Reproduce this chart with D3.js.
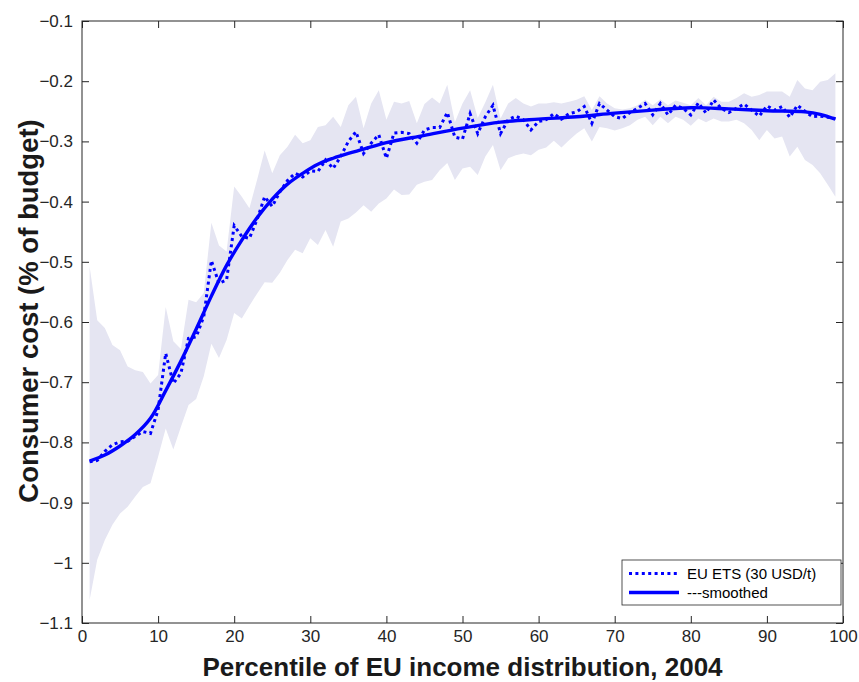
<!DOCTYPE html>
<html>
<head>
<meta charset="utf-8">
<script src="https://cdn.jsdelivr.net/npm/d3@7"></script>
<style>
  html, body { margin: 0; padding: 0; background: #fff; }
  svg { display: block; font-family: "Liberation Sans", Arial, Helvetica, sans-serif; }
</style>
</head>
<body>
<svg id="chart" width="859" height="682"></svg>
<script>
// Percentiles 1..99 of the EU income distribution
const percentiles = d3.range(1, 100);

// Consumer cost of EU ETS at 30 USD/t, % of household budget, per percentile
const etsCost = [
  -0.832, -0.830, -0.815, -0.804, -0.799, -0.798, -0.790, -0.782, -0.785, -0.746,
  -0.652, -0.702, -0.685, -0.627, -0.625, -0.591, -0.498, -0.536, -0.530, -0.440,
  -0.458, -0.461, -0.430, -0.392, -0.408, -0.384, -0.365, -0.353, -0.359, -0.349,
  -0.350, -0.331, -0.345, -0.325, -0.300, -0.284, -0.320, -0.303, -0.289, -0.328,
  -0.286, -0.285, -0.287, -0.303, -0.281, -0.277, -0.277, -0.252, -0.293, -0.296,
  -0.254, -0.287, -0.259, -0.240, -0.287, -0.264, -0.258, -0.264, -0.281, -0.267,
  -0.264, -0.254, -0.263, -0.254, -0.251, -0.242, -0.270, -0.237, -0.248, -0.259,
  -0.262, -0.252, -0.245, -0.237, -0.256, -0.237, -0.256, -0.240, -0.245, -0.256,
  -0.236, -0.253, -0.231, -0.245, -0.252, -0.245, -0.238, -0.248, -0.258, -0.241,
  -0.248, -0.242, -0.260, -0.240, -0.250, -0.259, -0.258, -0.260, -0.262
];

// Upper and lower edges of the confidence band, per percentile
const bandUpper = [
  -0.508, -0.597, -0.610, -0.638, -0.647, -0.674, -0.680, -0.683, -0.702, -0.688,
  -0.575, -0.632, -0.645, -0.563, -0.567, -0.552, -0.435, -0.473, -0.483, -0.375,
  -0.392, -0.411, -0.364, -0.315, -0.353, -0.323, -0.309, -0.289, -0.303, -0.298,
  -0.276, -0.273, -0.259, -0.276, -0.240, -0.226, -0.278, -0.237, -0.215, -0.264,
  -0.234, -0.237, -0.233, -0.270, -0.238, -0.227, -0.237, -0.206, -0.268, -0.237,
  -0.215, -0.261, -0.235, -0.206, -0.262, -0.237, -0.228, -0.237, -0.242, -0.237,
  -0.237, -0.235, -0.237, -0.234, -0.231, -0.225, -0.248, -0.225, -0.237, -0.245,
  -0.247, -0.245, -0.240, -0.231, -0.240, -0.230, -0.240, -0.232, -0.236, -0.240,
  -0.228, -0.240, -0.226, -0.234, -0.234, -0.228, -0.220, -0.226, -0.223, -0.217,
  -0.217, -0.217, -0.226, -0.198, -0.212, -0.215, -0.201, -0.198, -0.187
];
const bandLower = [
  -1.062, -0.995, -0.962, -0.937, -0.918, -0.907, -0.890, -0.874, -0.868, -0.824,
  -0.777, -0.812, -0.774, -0.738, -0.728, -0.690, -0.636, -0.660, -0.630, -0.585,
  -0.594, -0.573, -0.553, -0.534, -0.535, -0.518, -0.497, -0.480, -0.486, -0.461,
  -0.472, -0.447, -0.475, -0.433, -0.428, -0.418, -0.406, -0.417, -0.403, -0.395,
  -0.380, -0.389, -0.388, -0.372, -0.367, -0.364, -0.348, -0.336, -0.364, -0.345,
  -0.342, -0.356, -0.325, -0.306, -0.348, -0.328, -0.323, -0.320, -0.323, -0.314,
  -0.310, -0.299, -0.310, -0.298, -0.287, -0.278, -0.300, -0.276, -0.278, -0.282,
  -0.278, -0.273, -0.264, -0.259, -0.273, -0.259, -0.270, -0.259, -0.264, -0.274,
  -0.262, -0.268, -0.262, -0.267, -0.267, -0.264, -0.270, -0.281, -0.298, -0.281,
  -0.295, -0.292, -0.325, -0.309, -0.331, -0.339, -0.353, -0.372, -0.392
];

// Smoothed profile
const smoothPct = [1, 3, 5, 7, 9, 11, 13, 15, 17, 19, 21, 23, 25, 27, 29, 31, 33, 35, 37, 40,
                   45, 50, 55, 60, 65, 70, 75, 80, 85, 90, 95, 97, 99];
const smoothCost = [-0.831, -0.821, -0.806, -0.787, -0.760, -0.714, -0.665, -0.612, -0.557, -0.506,
                    -0.464, -0.427, -0.396, -0.371, -0.353, -0.338, -0.328, -0.320, -0.313, -0.302,
                    -0.290, -0.278, -0.268, -0.263, -0.259, -0.253, -0.248, -0.244, -0.246, -0.249,
                    -0.251, -0.255, -0.263];

// Axis ticks
const xTicks = [0, 10, 20, 30, 40, 50, 60, 70, 80, 90, 100];
const xTickLabels = ["0", "10", "20", "30", "40", "50", "60", "70", "80", "90", "100"];
const yTicks = [-1.1, -1, -0.9, -0.8, -0.7, -0.6, -0.5, -0.4, -0.3, -0.2, -0.1];
const yTickLabels = ["\u22121.1", "\u22121", "\u22120.9", "\u22120.8", "\u22120.7", "\u22120.6",
                     "\u22120.5", "\u22120.4", "\u22120.3", "\u22120.2", "\u22120.1"];

const xLabel = "Percentile of EU income distribution, 2004";
const yLabel = "Consumer cost (% of budget)";
const legendLabels = ["EU ETS (30 USD/t)", "---smoothed"];

const svg = d3.select("#chart");
const plot = { left: 82, right: 843, top: 21, bottom: 623 };
const axisColor = "#262626";
const lineBlue = "#0000ff";

const x = d3.scaleLinear().domain([0, 100]).range([plot.left, plot.right]);
const y = d3.scaleLinear().domain([-1.1, -0.1]).range([plot.bottom, plot.top]);

const rows = percentiles.map((p, i) => ({ p, v: etsCost[i], lo: bandLower[i], hi: bandUpper[i] }));
const smooth = smoothPct.map((p, i) => ({ p, v: smoothCost[i] }));

// Confidence band
svg.append("path")
  .datum(rows)
  .attr("fill", "#e5e5f2")
  .attr("stroke", "none")
  .attr("d", d3.area().x(d => x(d.p)).y0(d => y(d.lo)).y1(d => y(d.hi)));

// Raw series (dotted)
svg.append("path")
  .datum(rows)
  .attr("fill", "none")
  .attr("stroke", lineBlue)
  .attr("stroke-width", 3)
  .attr("stroke-dasharray", "3 3.4")
  .attr("d", d3.line().x(d => x(d.p)).y(d => y(d.v)));

// Smoothed series
svg.append("path")
  .datum(smooth)
  .attr("fill", "none")
  .attr("stroke", lineBlue)
  .attr("stroke-width", 3.4)
  .attr("stroke-linejoin", "round")
  .attr("d", d3.line().curve(d3.curveCatmullRom.alpha(0.5)).x(d => x(d.p)).y(d => y(d.v)));

// Axes with inward ticks on all four sides
const tickLen = 7;
const styleAxis = g => {
  g.select(".domain").remove();
  g.selectAll(".tick line").attr("stroke", axisColor).attr("stroke-width", 1);
  g.selectAll(".tick text").attr("fill", axisColor).attr("font-size", 17)
    .attr("font-family", "'Liberation Sans', Arial, Helvetica, sans-serif");
};

svg.append("g")
  .attr("transform", `translate(0,${plot.bottom})`)
  .call(d3.axisBottom(x).tickValues(xTicks).tickFormat((d, i) => xTickLabels[i])
    .tickSizeInner(-tickLen).tickSizeOuter(0).tickPadding(7))
  .call(styleAxis);

svg.append("g")
  .attr("transform", `translate(0,${plot.top})`)
  .call(d3.axisTop(x).tickValues(xTicks).tickFormat("")
    .tickSizeInner(-tickLen).tickSizeOuter(0))
  .call(styleAxis);

svg.append("g")
  .attr("transform", `translate(${plot.left},0)`)
  .call(d3.axisLeft(y).tickValues(yTicks).tickFormat((d, i) => yTickLabels[i])
    .tickSizeInner(-tickLen).tickSizeOuter(0).tickPadding(9))
  .call(styleAxis);

svg.append("g")
  .attr("transform", `translate(${plot.right},0)`)
  .call(d3.axisRight(y).tickValues(yTicks).tickFormat("")
    .tickSizeInner(-tickLen).tickSizeOuter(0))
  .call(styleAxis);

// Axes box
svg.append("rect")
  .attr("x", plot.left).attr("y", plot.top)
  .attr("width", plot.right - plot.left).attr("height", plot.bottom - plot.top)
  .attr("fill", "none").attr("stroke", axisColor).attr("stroke-width", 1);

// Axis titles
svg.append("text")
  .attr("x", (plot.left + plot.right) / 2)
  .attr("y", 676)
  .attr("text-anchor", "middle")
  .attr("font-size", 26).attr("font-weight", "bold").attr("fill", "#1a1a1a")
  .text(xLabel);

svg.append("text")
  .attr("transform", "translate(38,311) rotate(-90)")
  .attr("text-anchor", "middle")
  .attr("font-size", 27.5).attr("font-weight", "bold").attr("fill", "#1a1a1a")
  .text(yLabel);

// Legend
const legend = svg.append("g");
legend.append("rect")
  .attr("x", 622).attr("y", 560).attr("width", 219).attr("height", 45)
  .attr("fill", "#fff").attr("stroke", axisColor).attr("stroke-width", 0.8);
const legendRows = [
  { label: legendLabels[0], dash: "3 3.4", width: 3, cy: 573.5 },
  { label: legendLabels[1], dash: null, width: 3.4, cy: 592.5 }
];
legendRows.forEach(r => {
  legend.append("line")
    .attr("x1", 629).attr("x2", 679).attr("y1", r.cy).attr("y2", r.cy)
    .attr("stroke", lineBlue).attr("stroke-width", r.width)
    .attr("stroke-dasharray", r.dash);
  legend.append("text")
    .attr("x", 687).attr("y", r.cy + 5.5)
    .attr("font-size", 15).attr("fill", "#000")
    .text(r.label);
});
</script>
</body>
</html>
